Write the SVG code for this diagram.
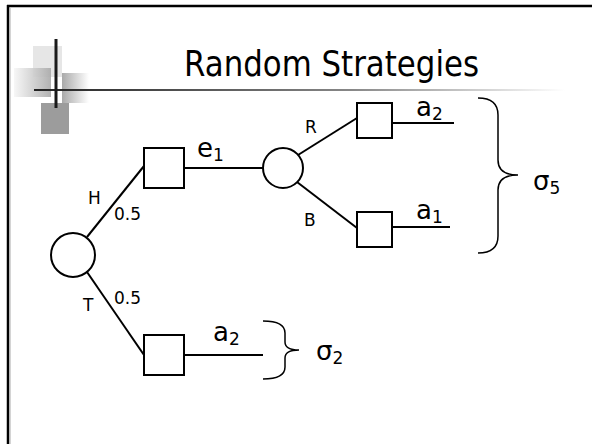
<svg xmlns="http://www.w3.org/2000/svg" width="592" height="444" viewBox="0 0 592 444">
  <defs>
    <linearGradient id="fadeRight" x1="0" y1="0" x2="1" y2="0">
      <stop offset="0" stop-color="#f6f6f6"/>
      <stop offset="1" stop-color="#a9a9a9"/>
    </linearGradient>
    <linearGradient id="fadeLeft" x1="0" y1="0" x2="1" y2="0">
      <stop offset="0" stop-color="#a9a9a9"/>
      <stop offset="1" stop-color="#ffffff"/>
    </linearGradient>
    <linearGradient id="ruleFade" gradientUnits="userSpaceOnUse" x1="34" y1="0" x2="565" y2="0">
      <stop offset="0" stop-color="#222222"/>
      <stop offset="0.6" stop-color="#888888"/>
      <stop offset="1" stop-color="#ffffff"/>
    </linearGradient>
    <style>
      .edge { stroke: #000; stroke-width: 2; fill: none; }
      .node { stroke: #000; stroke-width: 2; fill: #fff; }
      .brace { stroke: #000; stroke-width: 1.5; fill: none; }
      .lbl { font-family: "DejaVu Sans", Verdana, sans-serif; font-size: 17px; fill: #000; }
      .big { font-family: "DejaVu Sans", Verdana, sans-serif; font-size: 26px; fill: #000; }
      .sub { font-size: 17px; }
    </style>
  </defs>

  <rect x="0" y="0" width="592" height="444" fill="#fff"/>

  <!-- slide frame -->
  <line x1="7" y1="6" x2="592" y2="6" stroke="#000" stroke-width="2.5"/>
  <line x1="8" y1="5" x2="8" y2="444" stroke="#000" stroke-width="2.5"/>
  <line x1="10" y1="8" x2="10" y2="444" stroke="#aaa" stroke-width="1"/>

  <!-- title ornament -->
  <g id="ornament">
    <rect x="33" y="46" width="29" height="31" fill="#e6e6e6"/>
    <rect x="14" y="68" width="37" height="29" fill="url(#fadeRight)" opacity="0.9"/>
    <rect x="62" y="73" width="27" height="30" fill="url(#fadeLeft)"/>
    <rect x="41" y="103" width="28" height="31" fill="#9c9c9c"/>
    <line x1="34" y1="90" x2="565" y2="90" stroke="url(#ruleFade)" stroke-width="2"/>
    <line x1="56" y1="39" x2="56" y2="108" stroke="#1a1a1a" stroke-width="3"/>
  </g>

  <text x="184" y="76" font-family="DejaVu Sans, Verdana, sans-serif" font-size="35" textLength="295" lengthAdjust="spacingAndGlyphs" fill="#000">Random Strategies</text>

  <!-- connectors -->
  <g id="connectors">
    <line class="edge" x1="87" y1="237" x2="144" y2="166"/>
    <line class="edge" x1="87" y1="272" x2="144" y2="355"/>
    <line class="edge" x1="184" y1="168" x2="263" y2="168"/>
    <line class="edge" x1="184" y1="355" x2="263" y2="355"/>
    <line class="edge" x1="298" y1="155" x2="357" y2="118"/>
    <line class="edge" x1="297" y1="182" x2="357" y2="228"/>
    <line class="edge" x1="392" y1="123" x2="454" y2="123"/>
    <line class="edge" x1="392" y1="227" x2="450" y2="227"/>
  </g>

  <!-- nodes -->
  <g id="chance-root"><circle class="node" cx="73" cy="255" r="22"/></g>
  <g id="move-heads"><rect class="node" x="144" y="148" width="40" height="40"/></g>
  <g id="move-tails"><rect class="node" x="144" y="335" width="40" height="40"/></g>
  <g id="chance-e1"><circle class="node" cx="283" cy="168" r="20"/></g>
  <g id="move-red"><rect class="node" x="357" y="103" width="35" height="35"/></g>
  <g id="move-black"><rect class="node" x="357" y="212" width="35" height="35"/></g>

  <!-- edge labels -->
  <g id="labels">
    <text class="lbl" x="88" y="204">H</text>
    <text class="lbl" x="114" y="220">0.5</text>
    <text class="lbl" x="83" y="311">T</text>
    <text class="lbl" x="114" y="304">0.5</text>
    <text class="lbl" x="305" y="133">R</text>
    <text class="lbl" x="304" y="226">B</text>
    <text class="big" x="197" y="157">e<tspan class="sub" dy="4">1</tspan></text>
    <text class="big" x="213" y="341">a<tspan class="sub" dy="4">2</tspan></text>
    <text class="big" x="416" y="116">a<tspan class="sub" dy="4">2</tspan></text>
    <text class="big" x="416" y="219">a<tspan class="sub" dy="4">1</tspan></text>
  </g>

  <!-- strategy braces -->
  <g id="strategy-s5">
    <path class="brace" d="M478,98 Q498,98 498,115 L498,160 Q498,175 518,175 Q498,175 498,190 L498,236 Q498,253 478,253"/>
    <text class="big" x="533" y="190">σ<tspan class="sub" dy="4">5</tspan></text>
  </g>
  <g id="strategy-s2">
    <path class="brace" d="M263,321 Q285,321 285,333 L285,342 Q285,350 299,350 Q285,350 285,358 L285,367 Q285,379 263,379"/>
    <text class="big" x="316" y="360">σ<tspan class="sub" dy="4">2</tspan></text>
  </g>
</svg>
